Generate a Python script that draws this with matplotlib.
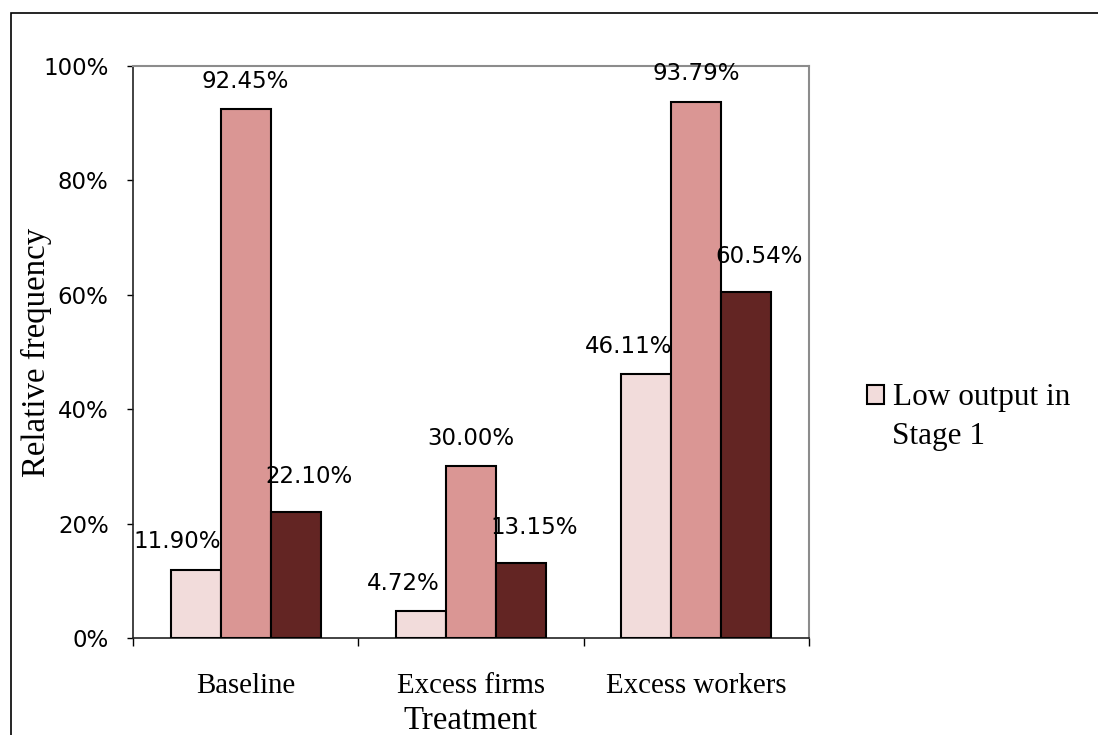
import matplotlib
matplotlib.use("Agg")
import matplotlib.pyplot as plt
import numpy as np
from matplotlib.patches import Rectangle

# ==============================
# Data
# ==============================
treatments = ["Baseline", "Excess firms", "Excess workers"]
low_stage1 = [11.90, 4.72, 46.11]
series_2 = [92.45, 30.00, 93.79]
series_3 = [22.10, 13.15, 60.54]
y_ticks = [0, 20, 40, 60, 80, 100]

SERIES = [
    ("Low output in Stage 1", low_stage1, "#F2DCDB"),
    ("series 2", series_2, "#DA9694"),
    ("series 3", series_3, "#632523"),
]
# label offsets (px): horizontal, vertical
LABEL_DX = [-18, 0, 13]
LABEL_DY = [28, 28, 35]

SERIF = "Liberation Serif"

fig = plt.figure(figsize=(10.98, 7.35), dpi=100)
ax = fig.add_axes([133 / 1098, 1 - 638 / 735, (809 - 133) / 1098, (638 - 66) / 735])

# outer chart frame
fig.patches.append(Rectangle((11 / 1098, -0.2), 1.2, 0.2 + (735 - 13) / 735,
                             transform=fig.transFigure, fill=False,
                             edgecolor="black", linewidth=1.2, zorder=0))

x = np.arange(len(treatments))
w = 1 / 4.5
bars = []
for k, (name, vals, col) in enumerate(SERIES):
    pos = x + (k - 1) * w
    b = ax.bar(pos, vals, width=w, color=col, edgecolor="black", linewidth=1.5, zorder=3)
    bars.append(b)
    for xi, v in zip(pos, vals):
        ax.annotate(f"{v:.2f}%", (xi, v), xytext=(LABEL_DX[k] * 0.72, LABEL_DY[k] * 0.72),
                    textcoords="offset points", ha="center", va="center",
                    fontsize=16.5, family="DejaVu Sans", color="black", zorder=4)

ax.set_xlim(-0.5, 2.5)
ax.set_ylim(0, 100)
ax.set_yticks(y_ticks)
ax.set_yticklabels([f"{t}%" for t in y_ticks], fontsize=16.5, family="DejaVu Sans")
ax.tick_params(axis="y", direction="out", length=4.5, width=1, pad=13)

ax.set_xticks(x)
ax.set_xticklabels(treatments, fontsize=20.8, family=SERIF)
ax.tick_params(axis="x", which="major", length=0, pad=25)
ax.set_xticks([-0.5, 0.5, 1.5, 2.5], minor=True)
ax.tick_params(axis="x", which="minor", direction="out", length=6, width=1)

for s in ["top", "right"]:
    ax.spines[s].set_color("#8c8c8c")
    ax.spines[s].set_linewidth(1.5)
for s in ["left", "bottom"]:
    ax.spines[s].set_color("#222222")
    ax.spines[s].set_linewidth(1.2)

ax.set_xlabel("Treatment", fontsize=23.7, family=SERIF, labelpad=5)
ax.set_ylabel("Relative frequency", fontsize=23.7, family=SERIF)
ax.yaxis.set_label_coords((52 - 133) / 676, 0.5)

# legend (only first entry visible, as in the original)
leg = ax.legend([bars[0]], ["Low output in"], loc="center left",
                bbox_to_anchor=(851 / 1098, 1 - 398 / 735), bbox_transform=fig.transFigure,
                frameon=False, prop={"family": SERIF, "size": 22.5},
                handlelength=0.55, handleheight=0.55, handletextpad=0.3, borderpad=0)
fig.text(892 / 1098, 1 - 437 / 735, "Stage 1", family=SERIF, fontsize=22.5,
         ha="left", va="center")

fig.savefig("out.png", dpi=100)
